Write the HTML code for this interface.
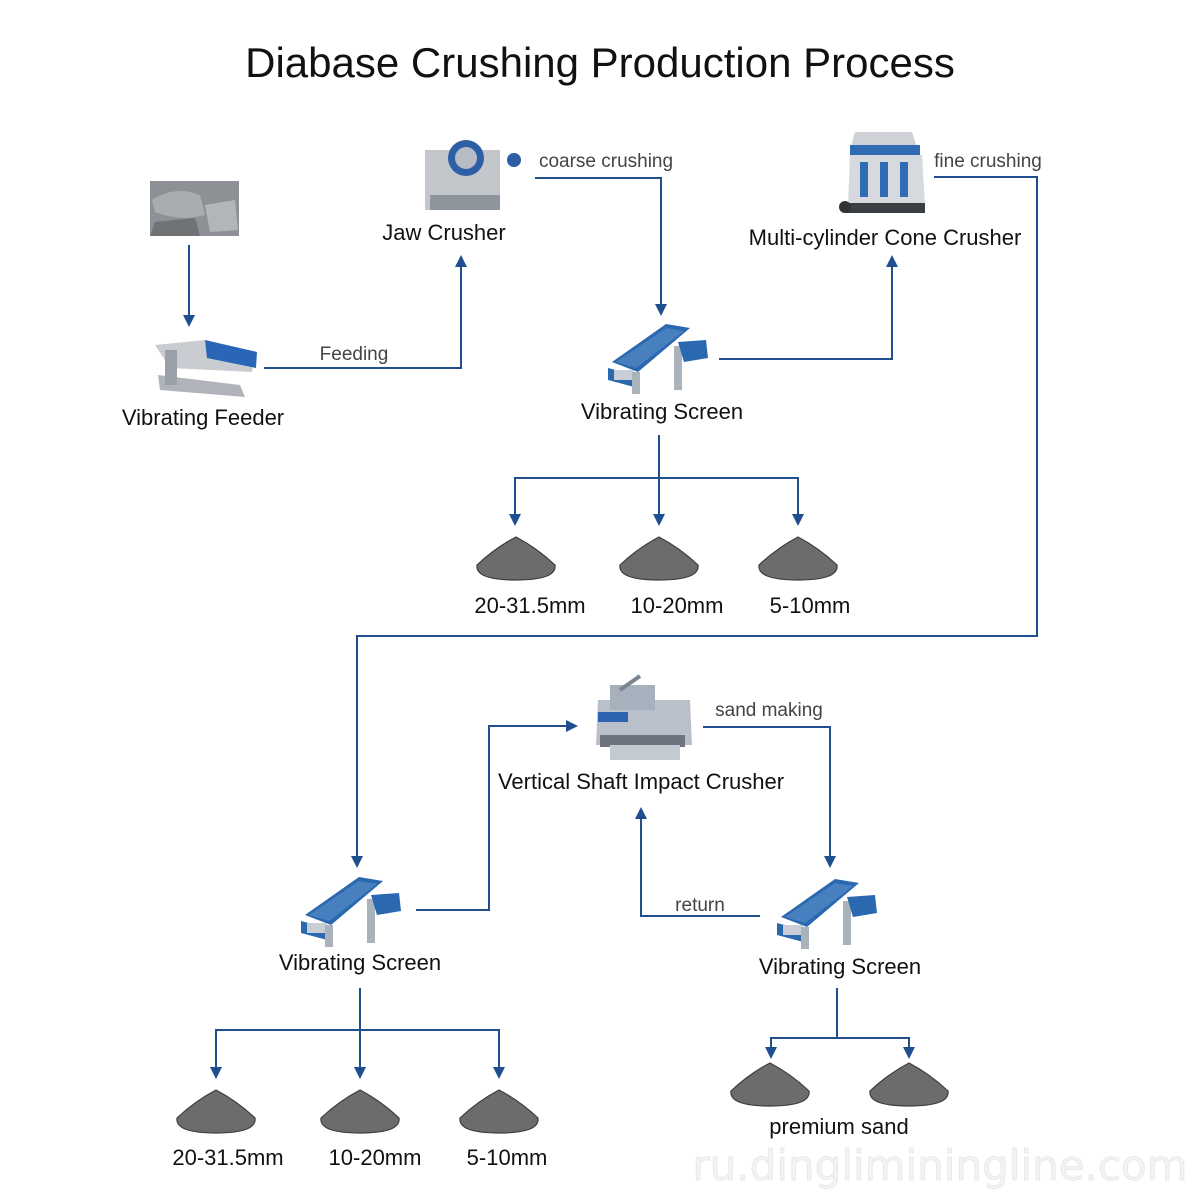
<!DOCTYPE html>
<html><head><meta charset="utf-8"><style>
html,body{margin:0;padding:0;background:#fff}
svg{display:block}
text{font-family:"Liberation Sans",sans-serif;fill:#111}
</style></head><body>
<svg width="1200" height="1200" viewBox="0 0 1200 1200" xmlns="http://www.w3.org/2000/svg">
<defs>
<marker id="a" markerWidth="12" markerHeight="12" refX="7" refY="6" orient="auto" markerUnits="userSpaceOnUse"><path d="M0,0 L12,6 L0,12 Z" fill="#1f4f8f"/></marker>
<g id="pile"><path d="M-39,565 Q-21,548 0,537 Q21,548 39,565 Q41,580 0,580 Q-41,580 -39,565 Z" fill="#6c6c6c" stroke="#3d3d3d" stroke-width="1.2"/></g>
<g id="scr">
<path d="M8,40 L62,2 L86,6 L34,50 Z" fill="#2a68b0"/>
<path d="M12,40 L62,6 L80,9 L32,46 Z" fill="#5d8fc8" opacity="0.6"/>
<path d="M4,46 L34,54 L34,66 L4,58 Z" fill="#2a68b0"/>
<rect x="10" y="48" width="20" height="10" fill="#c9ced6"/>
<rect x="70" y="24" width="8" height="44" fill="#aab2bc"/>
<rect x="28" y="50" width="8" height="22" fill="#aab2bc"/>
<path d="M74,20 L102,18 L104,36 L80,40 Z" fill="#2a68b0"/>
</g>
</defs>
<rect width="1200" height="1200" fill="#fff"/>
<text x="600" y="77" font-size="42" text-anchor="middle">Diabase Crushing Production Process</text>

<rect x="150" y="181" width="89" height="55" fill="#8d9195"/>
<path d="M152,200 Q175,185 200,195 L205,215 Q180,222 155,212Z" fill="#a9adb0"/>
<path d="M205,205 L235,200 L238,230 L210,232Z" fill="#b3b6b8"/>
<path d="M155,222 L195,218 L200,236 L150,236Z" fill="#6f7376"/>
<path d="M155,345 L205,340 L255,355 L252,372 L170,368Z" fill="#c9ccd0"/>
<path d="M205,340 L257,352 L256,368 L207,358Z" fill="#2a66b8"/>
<path d="M158,375 L240,385 L245,397 L160,390Z" fill="#b0b4ba"/>
<rect x="165" y="350" width="12" height="35" fill="#9aa0a8"/>
<rect x="425" y="150" width="75" height="60" fill="#c3c7cc"/>
<circle cx="466" cy="158" r="18" fill="#2d5fa6"/>
<circle cx="466" cy="158" r="11" fill="#b7bcc4"/>
<circle cx="514" cy="160" r="7" fill="#2d5fa6"/>
<rect x="430" y="195" width="70" height="15" fill="#8f959c"/>
<path d="M855,132 L912,132 L918,150 L850,150Z" fill="#cfd3d8"/>
<rect x="850" y="145" width="70" height="10" fill="#2f6cb4"/>
<path d="M850,155 L922,155 L925,205 L848,205Z" fill="#d6dade"/>
<rect x="860" y="162" width="8" height="35" fill="#2f6cb4"/><rect x="880" y="162" width="8" height="35" fill="#2f6cb4"/><rect x="900" y="162" width="8" height="35" fill="#2f6cb4"/>
<rect x="845" y="203" width="80" height="10" fill="#3a3d42"/>
<circle cx="845" cy="207" r="6" fill="#333"/>
<path d="M598,700 L690,700 L692,745 L596,745Z" fill="#b9c0c9"/>
<rect x="610" y="685" width="45" height="25" fill="#a7b1bd"/>
<rect x="598" y="712" width="30" height="10" fill="#2d64ad"/>
<rect x="600" y="735" width="85" height="12" fill="#6d747d"/>
<rect x="610" y="745" width="70" height="15" fill="#c4cad1"/>
<line x1="620" y1="690" x2="640" y2="676" stroke="#7b8591" stroke-width="4"/>

<use href="#scr" x="604" y="322"/>
<use href="#scr" x="297" y="875"/>
<use href="#scr" x="773" y="877"/>

<g fill="none" stroke="#1f4f8f" stroke-width="2">
<path d="M189,245 V322" marker-end="url(#a)"/>
<path d="M264,368 H461 V260" marker-end="url(#a)"/>
<path d="M535,178 H661 V311" marker-end="url(#a)"/>
<path d="M719,359 H892 V260" marker-end="url(#a)"/>
<path d="M934,177 H1037 V636 H357 V863" marker-end="url(#a)"/>
<path d="M659,435 V521" marker-end="url(#a)"/>
<path d="M515,521 V478 H798 V521" marker-end="url(#a)"/>
<path d="M515,478 V521" marker-end="url(#a)"/>
<path d="M416,910 H489 V726 H573" marker-end="url(#a)"/>
<path d="M703,727 H830 V863" marker-end="url(#a)"/>
<path d="M760,916 H641 V812" marker-end="url(#a)"/>
<path d="M360,988 V1074" marker-end="url(#a)"/>
<path d="M216,1074 V1030 H499 V1074" marker-end="url(#a)"/>
<path d="M216,1030 V1074" marker-end="url(#a)"/>
<path d="M837,988 V1038 H909 V1054" marker-end="url(#a)"/>
<path d="M837,1038 H771 V1054" marker-end="url(#a)"/>
</g>

<use href="#pile" x="516" y="0"/><use href="#pile" x="659" y="0"/><use href="#pile" x="798" y="0"/>
<use href="#pile" x="216" y="553"/><use href="#pile" x="360" y="553"/><use href="#pile" x="499" y="553"/>
<use href="#pile" x="770" y="526"/><use href="#pile" x="909" y="526"/>

<g font-size="22" text-anchor="middle">
<text x="203" y="425">Vibrating Feeder</text>
<text x="444" y="240">Jaw Crusher</text>
<text x="885" y="245">Multi-cylinder Cone Crusher</text>
<text x="662" y="419">Vibrating Screen</text>
<text x="641" y="789">Vertical Shaft Impact Crusher</text>
<text x="360" y="970">Vibrating Screen</text>
<text x="840" y="974">Vibrating Screen</text>
<text x="839" y="1134">premium sand</text>
<text x="530" y="613">20-31.5mm</text>
<text x="677" y="613">10-20mm</text>
<text x="810" y="613">5-10mm</text>
<text x="228" y="1165">20-31.5mm</text>
<text x="375" y="1165">10-20mm</text>
<text x="507" y="1165">5-10mm</text>
</g>
<g font-size="19" text-anchor="middle">
<text x="354" y="360" style="fill:#444">Feeding</text>
<text x="606" y="167" style="fill:#444">coarse crushing</text>
<text x="988" y="167" style="fill:#444">fine crushing</text>
<text x="769" y="716" style="fill:#444">sand making</text>
<text x="700" y="911" style="fill:#444">return</text>
</g>
<text x="940" y="1180" font-size="42" text-anchor="middle" style="fill:#f3f3f3;stroke:#e2e2e2;stroke-width:0.6;font-family:'DejaVu Sans',sans-serif">ru.dingliminingline.com</text>
</svg>
</body></html>
